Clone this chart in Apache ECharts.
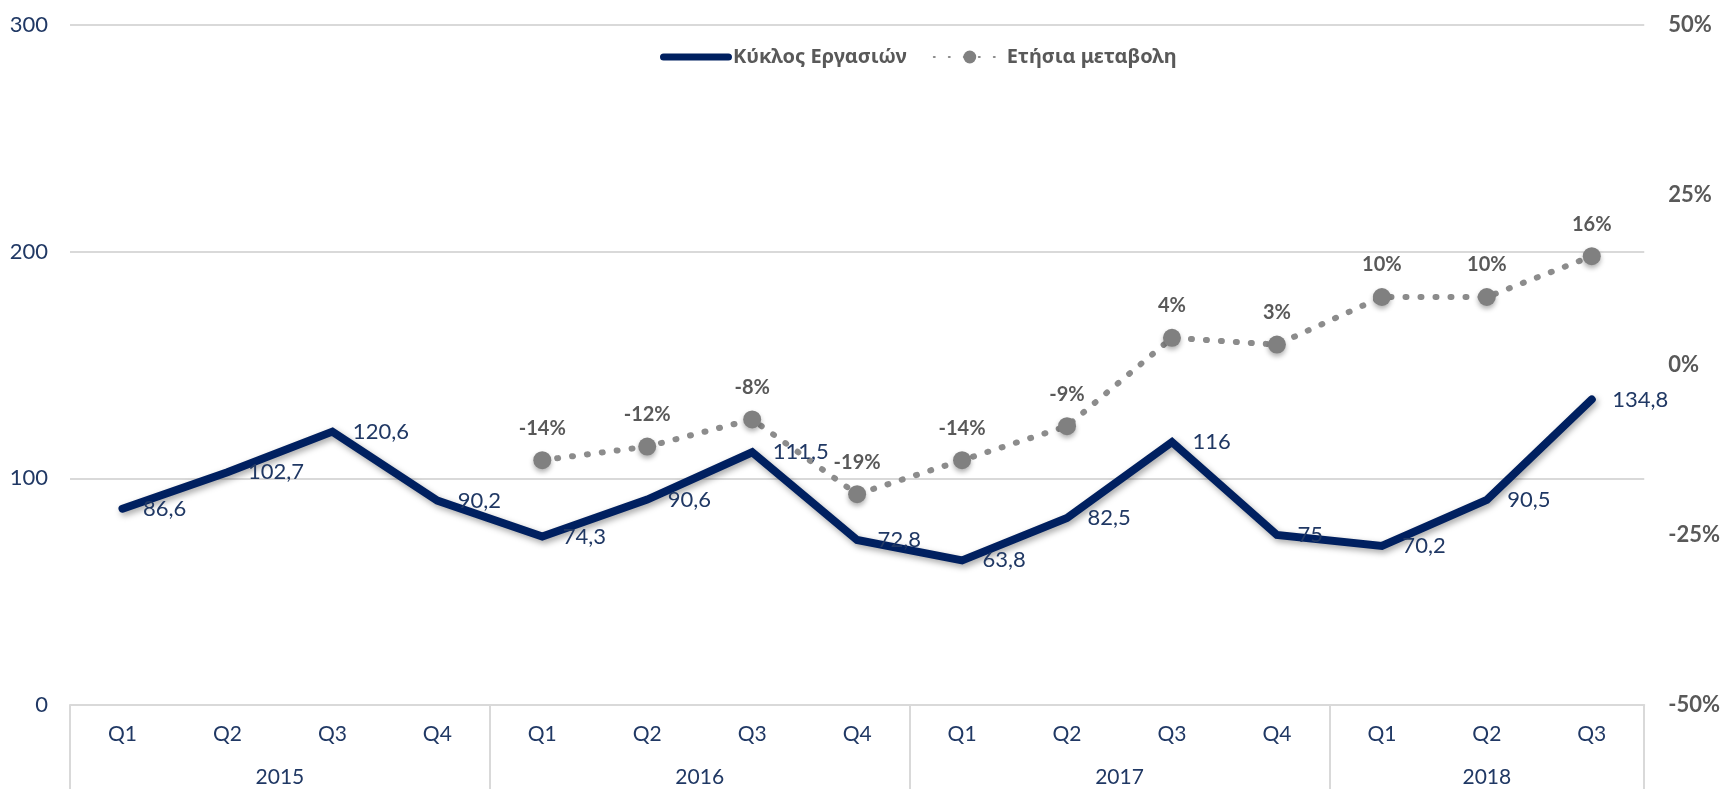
<!DOCTYPE html>
<html>
<head>
<meta charset="utf-8">
<script src="https://cdn.jsdelivr.net/npm/echarts@6/dist/echarts.min.js"></script>
<style>
  html, body { margin: 0; padding: 0; background: #fff; }
  #chart { width: 1723px; height: 789px; }
</style>
</head>
<body>
<div id="chart"></div>
<script>
const quarters = ["Q1", "Q2", "Q3", "Q4", "Q1", "Q2", "Q3", "Q4", "Q1", "Q2", "Q3", "Q4", "Q1", "Q2", "Q3"];
const years = ["2015", "2016", "2017", "2018"];
const quartersPerYear = [4, 4, 4, 3];
const revenue = [86.6, 102.7, 120.6, 90.2, 74.3, 90.6, 111.5, 72.8, 63.8, 82.5, 116, 75, 70.2, 90.5, 134.8];
const yoyChange = [null, null, null, null, -14, -12, -8, -19, -14, -9, 4, 3, 10, 10, 16];
const leftTicks = { min: 0, max: 300, interval: 100 };
const rightTicks = { min: -50, max: 50, interval: 25 };

const FONT = "Lato, 'Noto Sans', sans-serif";
const NAVY = "#002060";
const LABEL_NAVY = "#203864";
const GREY_TEXT = "#595959";
const GRID = "#d9d9d9";

// year axis: half-category slots so year names sit mid-group and separators sit on group edges
const yearSlots = [];
const yearEdges = [0];
let pos = 0;
years.forEach((y, i) => {
  const n = quartersPerYear[i];
  for (let k = 0; k < n * 2; k++) yearSlots.push("");
  yearSlots[pos + n] = y;
  pos += n * 2;
  yearEdges.push(pos);
});
yearSlots.push("");

const chart = echarts.init(document.getElementById("chart"));

chart.setOption({
  backgroundColor: "#fff",
  animation: false,
  textStyle: { fontFamily: FONT },
  legend: {
    left: 655,
    top: 42,
    itemWidth: 72,
    itemHeight: 16,
    itemGap: 26,
    textStyle: { color: GREY_TEXT, fontSize: 20, fontWeight: "bold", fontFamily: "'Noto Sans', sans-serif", padding: [0, 0, 0, -4] },
    data: [
      { name: "Κύκλος Εργασιών", icon: "path://M4,0 H76 A4,4 0 0 1 76,8 H4 A4,4 0 0 1 4,0 Z" },
      { name: "Ετήσια μεταβολη" },
    ],
  },
  grid: { left: 70, right: 75, top: 25, bottom: 84, containLabel: false },
  xAxis: [
    {
      type: "category",
      data: quarters,
      axisLine: { show: true, onZero: false, lineStyle: { color: GRID, width: 2 } },
      axisTick: { show: false },
      axisLabel: { color: LABEL_NAVY, fontSize: 21, margin: 19, interval: 0 },
      splitLine: { show: false },
    },
    {
      type: "category",
      data: yearSlots,
      boundaryGap: false,
      position: "bottom",
      axisLine: { show: false, onZero: false },
      axisTick: {
        show: true,
        length: 84,
        interval: (idx) => yearEdges.includes(idx),
        lineStyle: { color: GRID, width: 2 },
      },
      axisLabel: { color: LABEL_NAVY, fontSize: 21, margin: 62, interval: 0 },
      splitLine: { show: false },
    },
  ],
  yAxis: [
    {
      type: "value",
      min: leftTicks.min,
      max: leftTicks.max,
      interval: leftTicks.interval,
      axisLine: { show: false },
      axisTick: { show: false },
      axisLabel: { color: LABEL_NAVY, fontSize: 22, margin: 22 },
      splitLine: { lineStyle: { color: GRID, width: 2 } },
    },
    {
      type: "value",
      min: rightTicks.min,
      max: rightTicks.max,
      interval: rightTicks.interval,
      axisLine: { show: false },
      axisTick: { show: false },
      axisLabel: {
        color: GREY_TEXT,
        fontSize: 22,
        fontWeight: "bold",
        margin: 24,
        formatter: "{value}%",
      },
      splitLine: { show: false },
    },
  ],
  series: [
    {
      name: "Κύκλος Εργασιών",
      type: "line",
      data: revenue,
      symbol: "circle",
      symbolSize: 1,
      itemStyle: { color: NAVY },
      lineStyle: {
        color: NAVY,
        width: 8,
        cap: "round",
        join: "miter",
        shadowColor: "rgba(0,0,0,0.35)",
        shadowBlur: 6,
        shadowOffsetX: 2,
        shadowOffsetY: 3,
      },
      label: {
        show: true,
        position: "right",
        distance: 20,
        color: LABEL_NAVY,
        fontSize: 22,
        formatter: (p) => String(p.value).replace(".", ","),
      },
      z: 3,
    },
    {
      name: "Ετήσια μεταβολη",
      type: "line",
      yAxisIndex: 1,
      data: yoyChange,
      symbol: "circle",
      symbolSize: 18,
      itemStyle: {
        color: "#808080",
        shadowColor: "rgba(0,0,0,0.3)",
        shadowBlur: 5,
        shadowOffsetY: 3,
      },
      lineStyle: {
        color: "#8c8c8c",
        width: 6,
        type: [1, 14],
        cap: "round",
      },
      label: {
        show: true,
        position: "top",
        distance: 13,
        color: GREY_TEXT,
        fontSize: 20,
        fontWeight: "bold",
        formatter: (p) => p.value + "%",
      },
      z: 2,
    },
  ],
});
</script>
</body>
</html>
